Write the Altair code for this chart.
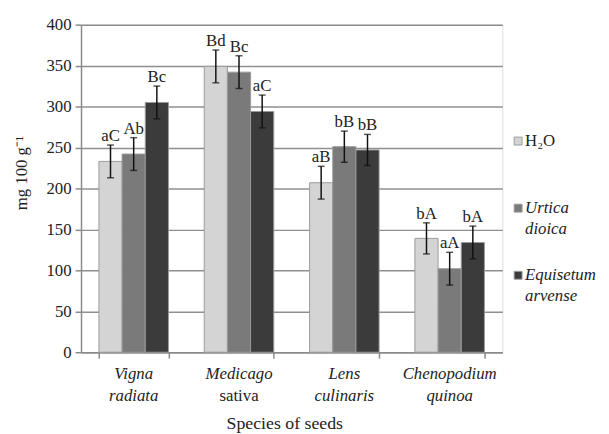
import altair as alt
import pandas as pd

species = ["Vigna radiata", "Medicago sativa", "Lens culinaris", "Chenopodium quinoa"]
label_line1 = ["Vigna", "Medicago", "Lens", "Chenopodium"]
label_line2 = ["radiata", "sativa", "culinaris", "quinoa"]
line2_style = ["italic", "normal", "italic", "italic"]

treatments = ["H₂O", "Urtica dioica", "Equisetum arvense"]
legend_line1 = ["H₂O", "Urtica", "Equisetum"]
legend_line2 = ["", "dioica", "arvense"]
legend_style = ["normal", "italic", "italic"]

means_h2o = [233, 349, 207, 139]
means_urtica = [242, 342, 251, 102]
means_equisetum = [305, 294, 247, 134]
err_h2o = [20, 20, 20, 19]
err_urtica = [20, 20, 19, 20]
err_equisetum = [20, 20, 19, 20]
letters_h2o = ["aC", "Bd", "aB", "bA"]
letters_urtica = ["Ab", "Bc", "bB", "aA"]
letters_equisetum = ["Bc", "aC", "bB", "bA"]

colors = ["#d4d4d4", "#7a7a7a", "#3b3b3b"]
FONT = "Liberation Serif"
FS = 17
W, H = 427, 332

rows = []
for t, m, e, l in zip(treatments,
                      [means_h2o, means_urtica, means_equisetum],
                      [err_h2o, err_urtica, err_equisetum],
                      [letters_h2o, letters_urtica, letters_equisetum]):
    for s, mv, ev, lv in zip(species, m, e, l):
        rows.append({"species": s, "treatment": t, "mean": mv,
                     "lo": mv - ev, "hi": mv + ev, "letter": lv})
df = pd.DataFrame(rows)

x_enc = alt.X("species:N", sort=species,
              scale=alt.Scale(paddingInner=0.34, paddingOuter=0.17),
              axis=alt.Axis(title="Species of seeds", labels=False, tickBand="extent",
                            domainColor="#8a8a8a", tickColor="#8a8a8a", tickSize=6,
                            domainWidth=1.5, tickWidth=1.5, grid=False,
                            titleFont=FONT, titleFontSize=18, titleFontWeight="normal",
                            titleColor="#222222", titlePadding=57, titleX=206))
xo = alt.XOffset("treatment:N", sort=treatments, scale=alt.Scale(paddingInner=0.0))
color = alt.Color("treatment:N", sort=treatments,
                  scale=alt.Scale(domain=treatments, range=colors), legend=None)

bars = alt.Chart(df).mark_bar(stroke="#9a9a9a", strokeWidth=1).encode(
    x=x_enc, xOffset=xo,
    y=alt.Y("mean:Q", scale=alt.Scale(domain=[0, 400]),
            axis=alt.Axis(values=list(range(0, 401, 50)), title="mg 100  g⁻¹",
                          grid=True, gridColor="#8f8f8f", gridWidth=1.5,
                          domainColor="#8a8a8a", tickColor="#8a8a8a", tickSize=6,
                          domainWidth=1.5, tickWidth=1.5,
                          labelFont=FONT, labelFontSize=FS, labelColor="#222222",
                          labelPadding=4,
                          titleFont=FONT, titleFontSize=17, titleFontWeight="normal",
                          titleColor="#222222", titlePadding=16, titleY=150)),
    color=color,
)

rules = alt.Chart(df).mark_rule(color="#111111", strokeWidth=1.5).encode(
    x=alt.X("species:N", sort=species), xOffset=xo, y="lo:Q", y2="hi:Q")
cap_lo = alt.Chart(df).mark_tick(color="#111111", size=7, thickness=1.5).encode(
    x=alt.X("species:N", sort=species), xOffset=xo, y="lo:Q")
cap_hi = alt.Chart(df).mark_tick(color="#111111", size=7, thickness=1.5).encode(
    x=alt.X("species:N", sort=species), xOffset=xo, y="hi:Q")
letters = alt.Chart(df).mark_text(font=FONT, fontSize=FS, color="#222222",
                                  baseline="alphabetic", dy=-4).encode(
    x=alt.X("species:N", sort=species), xOffset=xo, y="hi:Q", text="letter:N")

layers = [bars, rules, cap_lo, cap_hi, letters]

sp_df = pd.DataFrame({"species": species, "line1": label_line1,
                      "line2": label_line2, "style2": line2_style})
layers.append(alt.Chart(sp_df).mark_text(font=FONT, fontSize=FS, fontStyle="italic",
                                         color="#222222", baseline="middle").encode(
    x=alt.X("species:N", sort=species), y=alt.value(H + 22), text="line1:N"))
for st in ["italic", "normal"]:
    layers.append(alt.Chart(sp_df).transform_filter(alt.datum.style2 == st).mark_text(
        font=FONT, fontSize=FS, fontStyle=st, color="#222222", baseline="middle").encode(
        x=alt.X("species:N", sort=species), y=alt.value(H + 44), text="line2:N"))

leg_df = pd.DataFrame({"treatment": treatments, "line1": legend_line1,
                       "line2": legend_line2, "style": legend_style})
for i, t in enumerate(treatments):
    y0 = 118 + i * 68
    sub = alt.Chart(leg_df).transform_filter(alt.datum.treatment == t)
    layers.append(sub.mark_square(size=64, opacity=1, stroke="#9a9a9a", strokeWidth=1).encode(
        x=alt.value(W + 16), y=alt.value(y0), color=color))
    layers.append(sub.mark_text(font=FONT, fontSize=FS, fontStyle=legend_style[i],
                                color="#222222", align="left", baseline="middle").encode(
        x=alt.value(W + 23), y=alt.value(y0), text="line1:N"))
    if legend_line2[i]:
        layers.append(sub.mark_text(font=FONT, fontSize=FS, fontStyle=legend_style[i],
                                    color="#222222", align="left", baseline="middle").encode(
            x=alt.value(W + 23), y=alt.value(y0 + 21), text="line2:N"))

chart = alt.layer(*layers).properties(
    width=W, height=H,
    autosize=alt.AutoSizeParams(type="none"),
    padding={"left": 74, "top": 14, "right": 100, "bottom": 80},
).configure_view(stroke=None).configure(font=FONT)

chart.save("out.html", embed_options={"renderer": "svg", "actions": False})
